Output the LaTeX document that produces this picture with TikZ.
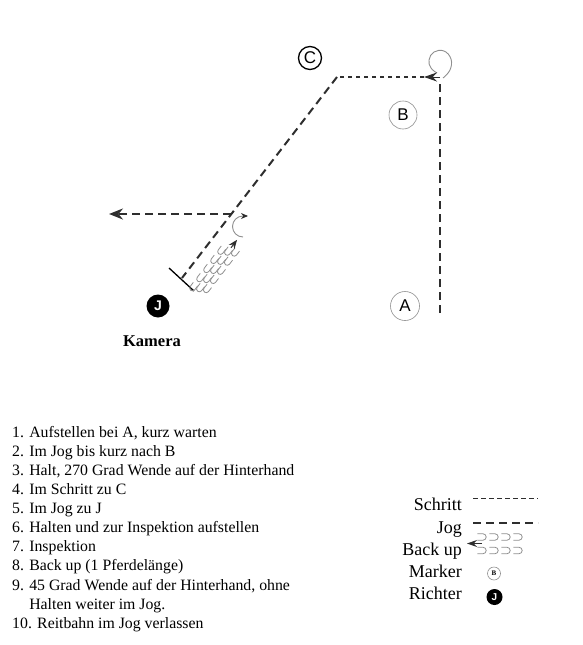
\documentclass[tikz,border=0pt]{standalone}
\usepackage{fontspec}
\setmainfont{Liberation Serif}
\newfontfamily\markfont{Liberation Sans}
\usetikzlibrary{arrows.meta, positioning, calc}
\definecolor{pathgray}{HTML}{2E2E2E}
\definecolor{shoegray}{HTML}{8F8F8F}

\tikzset{
    schritt/.style={pathgray, line width=1.7pt, dash pattern=on 4.5pt off 3.5pt},
    jog/.style={pathgray, line width=2pt, dash pattern=on 8pt off 5pt},
    shoeline/.style={shoegray, line width=0.8pt},
    marker/.style={circle, draw=shoegray, line width=0.6pt, inner sep=0pt, minimum size=28pt, font=\markfont\fontsize{17}{17}\selectfont},
    judge/.style={circle, fill=black, inner sep=0pt, minimum size=23pt, text=white, font=\markfont\bfseries\fontsize{14}{14}\selectfont},
    listitem/.style={anchor=base west, inner sep=0pt, font=\fontsize{15.8}{19}\selectfont},
    legendtext/.style={anchor=base east, inner sep=0pt, font=\fontsize{18}{20}\selectfont},
    horseshoe/.pic={\draw[shoeline] (5,-2.8) -- (0,-2.8) arc[start angle=270, end angle=90, radius=2.8] -- (5,2.8);}
}

\begin{document}
\begin{tikzpicture}[x=1pt, y=-1pt]
    \useasboundingbox (0,0) rectangle (582,645);

    % Markers and judge
    \node[marker, draw=black, line width=1.3pt, minimum size=23pt] (C) at (310,58) {C};
    \node[marker] (B) at (403,115) {B};
    \node[marker, minimum size=29pt] (A) at (405,306) {A};
    \node[judge] (J) at (158,306) {J};
    \node[font=\bfseries\fontsize{16.5}{18}\selectfont] (kamera) at (152,341) {Kamera};

    % Pattern points
    \coordinate (start) at (440,313);
    \coordinate (turnB) at (440,80);
    \coordinate (loopend) at (424,77);
    \coordinate (corner) at (337,77);
    \coordinate (halt) at (182,278);
    \coordinate (cross) at (231,214);
    \coordinate (exit) at (109,214);

    % Jog to B, turn, Schritt to C
    \draw[jog] (start) -- (turnB);
    \draw[shoeline, line width=0.9pt] plot[smooth, tension=0.7] coordinates {(443,78) (450,70) (451,59) (444,51) (434,52) (429,60) (431,68) (437,73)};
    \draw[pathgray, line width=1pt, -{Stealth[length=13pt, width=9pt]}] (440,77) -- (loopend);
    \draw[schritt] (loopend) -- (corner);

    % Jog to J and halt
    \draw[jog] (corner) -- (halt);
    \draw[black, line width=1.3pt] ($(halt)+(-13,-10)$) -- ($(halt)+(12,13)$);

    % Back up
    \begin{scope}[shift={(217,266)}, rotate=52.5]
        \foreach \r in {0,...,4}
            \foreach \c in {-1,0,1}
                \pic[transform shape] at (-29+\r*11.5+\c*3.5, \c*6) {horseshoe};
        \draw[pathgray, line width=1pt, -{Stealth[length=9pt, width=7pt]}] (23,0) -- (33,0);
    \end{scope}

    % Turn and leave in Jog
    \draw[shoeline, line width=0.9pt, -{Stealth[length=7pt, width=6pt, color=pathgray]}] (243,237) arc[start angle=90, end angle=270, radius=10.5] -- ++(5,0);
    \draw[jog, -{Stealth[length=14pt, width=11pt]}] (cross) -- (exit);

    % Task list
    \foreach \t [count=\i] in {{1. Aufstellen bei A, kurz warten}, {2. Im Jog bis kurz nach B},
        {3. Halt, 270 Grad Wende auf der Hinterhand}, {4. Im Schritt zu C}, {5. Im Jog zu J},
        {6. Halten und zur Inspektion aufstellen}, {7. Inspektion}, {8. Back up (1 Pferdelänge)},
        {9. 45 Grad Wende auf der Hinterhand, ohne}, {\phantom{9. }Halten weiter im Jog.},
        {10. Reitbahn im Jog verlassen}}
        \node[listitem] (item\i) at (12, 437+19.13*\i-19.13) {\t};

    % Legend
    \node[legendtext] (lschritt) at (462,510.5) {Schritt};
    \node[legendtext] (ljog) at (462,533) {Jog};
    \node[legendtext] (lback) at (462,555) {Back up};
    \node[legendtext] (lmarker) at (462,577) {Marker};
    \node[legendtext] (lrichter) at (462,599.5) {Richter};

    \draw[schritt] (473,498.5) -- (538,498.5);
    \draw[jog] (473,523) -- (538,523);
    \draw[pathgray, line width=1pt, -{Stealth[length=10pt, width=7pt]}] (482,543.5) -- (467,543.5);
    \foreach \x in {483,495,507,519} {
        \pic[rotate=180, scale=1.15] at (\x,537) {horseshoe};
        \pic[rotate=180, scale=1.15] at (\x,550.5) {horseshoe};
    }
    \node[marker, minimum size=13pt, font=\bfseries\fontsize{7}{7}\selectfont] (mB) at (494,573.5) {B};
    \node[judge, minimum size=16pt, font=\markfont\bfseries\fontsize{10}{10}\selectfont] (mJ) at (494.5,597) {J};
\end{tikzpicture}
\end{document}
